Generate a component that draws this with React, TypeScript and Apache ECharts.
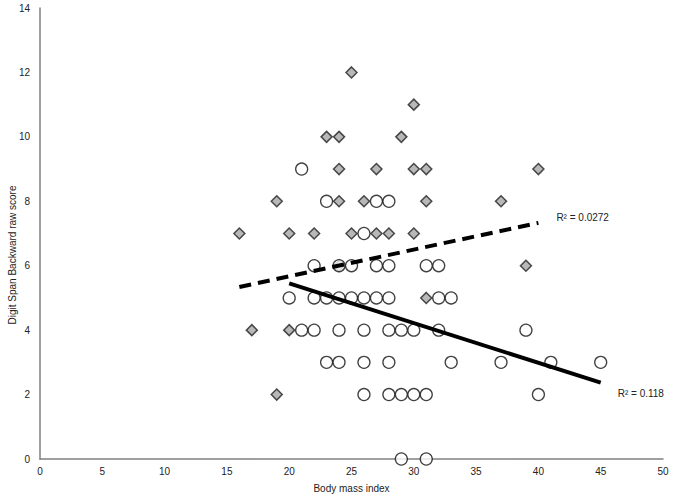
import React, { useEffect, useRef } from "react";
import * as echarts from "echarts";

// Grey diamonds: [BMI, score]
const diamondPoints: number[][] = [
  [25, 12], [30, 11], [23, 10], [24, 10], [29, 10],
  [24, 9], [27, 9], [30, 9], [31, 9], [40, 9],
  [19, 8], [24, 8], [26, 8], [31, 8], [37, 8],
  [16, 7], [20, 7], [22, 7], [25, 7], [27, 7], [28, 7], [30, 7],
  [24, 6], [39, 6], [31, 5], [17, 4], [20, 4], [19, 2],
];

// Open circles: [BMI, score]
const circlePoints: number[][] = [
  [21, 9], [23, 8], [27, 8], [28, 8], [26, 7],
  [22, 6], [24, 6], [25, 6], [27, 6], [28, 6], [31, 6], [32, 6],
  [20, 5], [22, 5], [23, 5], [24, 5], [25, 5], [26, 5], [27, 5], [28, 5], [32, 5], [33, 5],
  [21, 4], [22, 4], [24, 4], [26, 4], [28, 4], [29, 4], [30, 4], [32, 4], [39, 4],
  [23, 3], [24, 3], [26, 3], [28, 3], [33, 3], [37, 3], [41, 3], [45, 3],
  [26, 2], [28, 2], [29, 2], [30, 2], [31, 2], [40, 2],
  [29, 0], [31, 0],
];

// Trend lines (endpoints)
const diamondTrend: number[][] = [[16, 5.34], [40, 7.33]];
const circleTrend: number[][] = [[20, 5.45], [45, 2.37]];
const diamondR2 = "R² = 0.0272";
const circleR2 = "R² = 0.118";
const yAxisTitle = "Digit Span Backward raw score";

const FONT = "Liberation Sans, Arial, sans-serif";

export default function App() {
  const ref = useRef<HTMLDivElement>(null);
  useEffect(() => {
    if (!ref.current) return;
    const chart = echarts.init(ref.current, null, { renderer: "svg" });
    chart.setOption({
      animation: false,
      backgroundColor: "#ffffff",
      textStyle: { fontFamily: FONT },
      grid: { left: 40, right: 12, top: 8, bottom: 40, containLabel: false, outerBoundsMode: "none" },
      graphic: [
        {
          type: "text",
          x: 12,
          y: 255,
          rotation: Math.PI / 2,
          style: {
            text: yAxisTitle,
            fontSize: 10,
            fontFamily: FONT,
            fill: "#222",
            align: "center",
            verticalAlign: "middle",
          },
        },
      ],
      xAxis: {
        type: "value",
        min: 0,
        max: 50,
        interval: 5,
        name: "Body mass index",
        nameLocation: "middle",
        nameGap: 24,
        nameTextStyle: { fontSize: 10, color: "#222", fontFamily: FONT },
        axisLine: { show: true, lineStyle: { color: "#808080", width: 1.5 } },
        axisTick: { show: false },
        splitLine: { show: false },
        axisLabel: { fontSize: 10, color: "#222", margin: 7, fontFamily: FONT },
      },
      yAxis: {
        type: "value",
        min: 0,
        max: 14,
        interval: 2,
        axisLine: { show: true, lineStyle: { color: "#808080", width: 1.5 } },
        axisTick: { show: false },
        splitLine: { show: false },
        axisLabel: { fontSize: 10, color: "#222", margin: 10, fontFamily: FONT },
      },
      series: [
        {
          type: "scatter",
          data: diamondPoints,
          symbol: "diamond",
          symbolSize: [11, 11],
          itemStyle: { color: "#a6a6a6", borderColor: "#222", borderWidth: 1.5 },
          z: 2,
        },
        {
          type: "scatter",
          data: circlePoints,
          symbol: "circle",
          symbolSize: 12,
          itemStyle: { color: "#ffffff", borderColor: "#111", borderWidth: 1.3 },
          z: 3,
        },
        {
          type: "line",
          data: diamondTrend,
          showSymbol: false,
          symbol: "none",
          lineStyle: { color: "#000", width: 4, type: [12, 7] },
          endLabel: {
            show: true,
            formatter: diamondR2,
            fontSize: 10,
            color: "#222",
            fontFamily: FONT,
            offset: [10, -5],
          },
          z: 4,
        },
        {
          type: "line",
          data: circleTrend,
          showSymbol: false,
          symbol: "none",
          lineStyle: { color: "#000", width: 4 },
          endLabel: {
            show: true,
            formatter: circleR2,
            fontSize: 10,
            color: "#222",
            fontFamily: FONT,
            offset: [9, 11],
          },
          z: 4,
        },
      ],
    });
    return () => chart.dispose();
  }, []);
  return (
    <div
      ref={ref}
      style={{ position: "absolute", left: 0, top: 0, width: 675, height: 499 }}
    />
  );
}
